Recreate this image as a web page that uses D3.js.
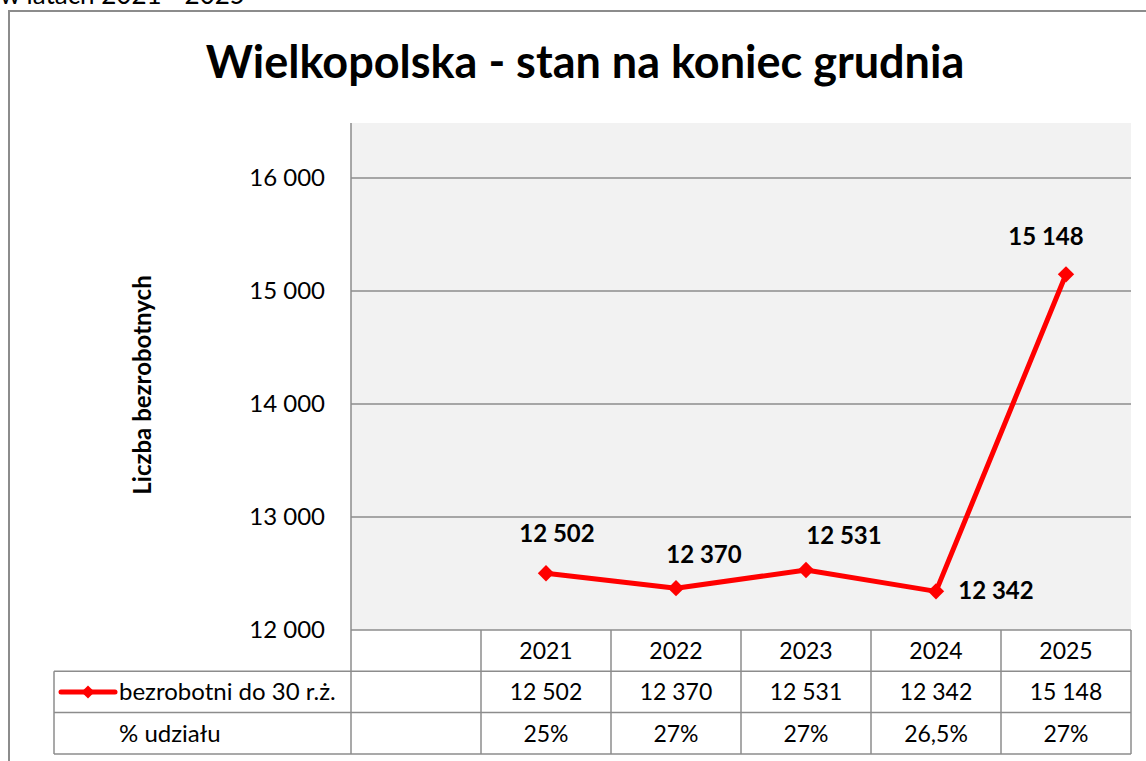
<!DOCTYPE html>
<html>
<head>
<meta charset="utf-8">
<script src="https://cdn.jsdelivr.net/npm/d3@7"></script>
<style>
  body { margin: 0; background: #fff; }
  svg { display: block; font-family: Lato, "Open Sans", sans-serif; }
</style>
</head>
<body>
<div id="chart"></div>
<script>
// data
var years = ["2021", "2022", "2023", "2024", "2025"];
var values = [12502, 12370, 12531, 12342, 15148];
var shares = ["25%", "27%", "27%", "26,5%", "27%"];
var yTicks = [12000, 13000, 14000, 15000, 16000];
var seriesName = "bezrobotni do 30 r.ż.";
var shareName = "% udziału";

var W = 1146, H = 761;
var svg = d3.select("#chart").append("svg")
    .attr("width", W)
    .attr("height", H);

// plot box
var plot = {left: 351, right: 1131, top: 123, bottom: 630};
var rowH = 41.3;

var pl = d3.formatLocale({decimal: ",", thousands: "\u00a0", grouping: [3], currency: ["", " zł"]});
var fmt = pl.format(",d");

// first slot is empty, like in the source chart
var x = d3.scaleBand()
    .domain([""].concat(years))
    .range([plot.left, plot.right]);

var y = d3.scaleLinear()
    .domain([12000, 16487])
    .range([plot.bottom, plot.top]);

// clipped subtitle at the very top
svg.append("text")
    .attr("x", 0)
    .attr("y", 4)
    .style("font-size", "26px")
    .text("w latach 2021 - 2025");

// outer border
svg.append("rect")
    .attr("x", 9).attr("y", 11)
    .attr("width", 1300).attr("height", 900)
    .attr("fill", "none")
    .attr("stroke", "#8c8c8c")
    .attr("stroke-width", 2);

// title
svg.append("text")
    .attr("x", 585)
    .attr("y", 78)
    .attr("text-anchor", "middle")
    .style("font-size", "45px")
    .style("font-weight", "bold")
    .text("Wielkopolska - stan na koniec grudnia");

// plot background
svg.append("rect")
    .attr("x", plot.left).attr("y", plot.top)
    .attr("width", plot.right - plot.left)
    .attr("height", plot.bottom - plot.top)
    .attr("fill", "#f2f2f2");

// gridlines
svg.append("g")
  .selectAll("line")
  .data(yTicks.slice(1))
  .enter()
  .append("line")
    .attr("x1", plot.left).attr("x2", plot.right)
    .attr("y1", function(d) { return y(d); })
    .attr("y2", function(d) { return y(d); })
    .attr("stroke", "#8c8c8c")
    .attr("stroke-width", 1.5);

// y axis
var yAxis = svg.append("g")
    .attr("transform", "translate(" + plot.left + ",0)")
    .call(d3.axisLeft(y).tickValues(yTicks).tickFormat(fmt).tickSize(0).tickPadding(26));
yAxis.select(".domain").remove();
yAxis.selectAll("text")
    .style("font-family", "Lato, sans-serif")
    .style("font-size", "24px")
    .attr("fill", "#000");

// y axis title
svg.append("text")
    .attr("transform", "translate(151,385) rotate(-90)")
    .attr("text-anchor", "middle")
    .style("font-size", "24px")
    .style("font-weight", "bold")
    .text("Liczba bezrobotnych");

// data table
var tbl = svg.append("g")
    .attr("stroke", "#8c8c8c")
    .attr("stroke-width", 1.5);
var r0 = plot.bottom, r1 = r0 + rowH, r2 = r1 + rowH, r3 = r2 + rowH;
var tableLeft = 54;

tbl.append("line").attr("x1", plot.left).attr("x2", plot.right).attr("y1", r0).attr("y2", r0);
[r1, r2, r3].forEach(function(r) {
  tbl.append("line").attr("x1", tableLeft).attr("x2", plot.right).attr("y1", r).attr("y2", r);
});
tbl.append("line").attr("x1", tableLeft).attr("x2", tableLeft).attr("y1", r1).attr("y2", r3);
// axis line runs through the table
tbl.append("line").attr("x1", plot.left).attr("x2", plot.left).attr("y1", plot.top).attr("y2", r3);
tbl.selectAll(".vcol")
  .data(years)
  .enter()
  .append("line")
    .attr("class", "vcol")
    .attr("x1", function(d) { return x(d); })
    .attr("x2", function(d) { return x(d); })
    .attr("y1", r0).attr("y2", r3);
tbl.append("line").attr("x1", plot.right).attr("x2", plot.right).attr("y1", r0).attr("y2", r3);

var cx = function(d) { return x(d) + x.bandwidth() / 2; };

svg.append("g").selectAll("text")
  .data(years)
  .enter()
  .append("text")
    .attr("x", cx)
    .attr("y", r0 + 29)
    .attr("text-anchor", "middle")
    .style("font-size", "23px")
    .text(function(d) { return d; });

svg.append("g").selectAll("text")
  .data(values)
  .enter()
  .append("text")
    .attr("x", function(d, i) { return cx(years[i]); })
    .attr("y", r1 + 29)
    .attr("text-anchor", "middle")
    .style("font-size", "23px")
    .text(function(d) { return fmt(d); });

svg.append("g").selectAll("text")
  .data(shares)
  .enter()
  .append("text")
    .attr("x", function(d, i) { return cx(years[i]); })
    .attr("y", r2 + 29)
    .attr("text-anchor", "middle")
    .style("font-size", "23px")
    .text(function(d) { return d; });

// legend key in table
var legY = r1 + rowH / 2;
svg.append("line")
    .attr("x1", 61).attr("x2", 115)
    .attr("y1", legY).attr("y2", legY)
    .attr("stroke", "#ff0000")
    .attr("stroke-width", 5)
    .attr("stroke-linecap", "round");
svg.append("path")
    .attr("d", d3.symbol().type(d3.symbolDiamond2).size(110)())
    .attr("transform", "translate(88," + legY + ")")
    .attr("fill", "#ff0000");
svg.append("text")
    .attr("x", 119)
    .attr("y", r1 + 29)
    .style("font-size", "24px")
    .text(seriesName);
svg.append("text")
    .attr("x", 119)
    .attr("y", r2 + 29)
    .style("font-size", "24px")
    .text(shareName);

// line
var line = d3.line()
    .x(function(d, i) { return cx(years[i]); })
    .y(function(d) { return y(d); });

svg.append("path")
    .datum(values)
    .attr("d", line)
    .attr("fill", "none")
    .attr("stroke", "#ff0000")
    .attr("stroke-width", 5)
    .attr("stroke-linejoin", "round");

svg.append("g").selectAll("path")
  .data(values)
  .enter()
  .append("path")
    .attr("d", d3.symbol().type(d3.symbolDiamond2).size(170)())
    .attr("transform", function(d, i) { return "translate(" + cx(years[i]) + "," + y(d) + ")"; })
    .attr("fill", "#ff0000");

// data labels, placed by hand like in the source
var labelOffsets = [[11, -31], [28, -25], [38, -26], [60, 8], [-20, -29]];
svg.append("g").selectAll("text")
  .data(values)
  .enter()
  .append("text")
    .attr("x", function(d, i) { return cx(years[i]) + labelOffsets[i][0]; })
    .attr("y", function(d, i) { return y(d) + labelOffsets[i][1]; })
    .attr("text-anchor", "middle")
    .style("font-size", "24px")
    .style("font-weight", "bold")
    .text(function(d) { return fmt(d); });
</script>
</body>
</html>
